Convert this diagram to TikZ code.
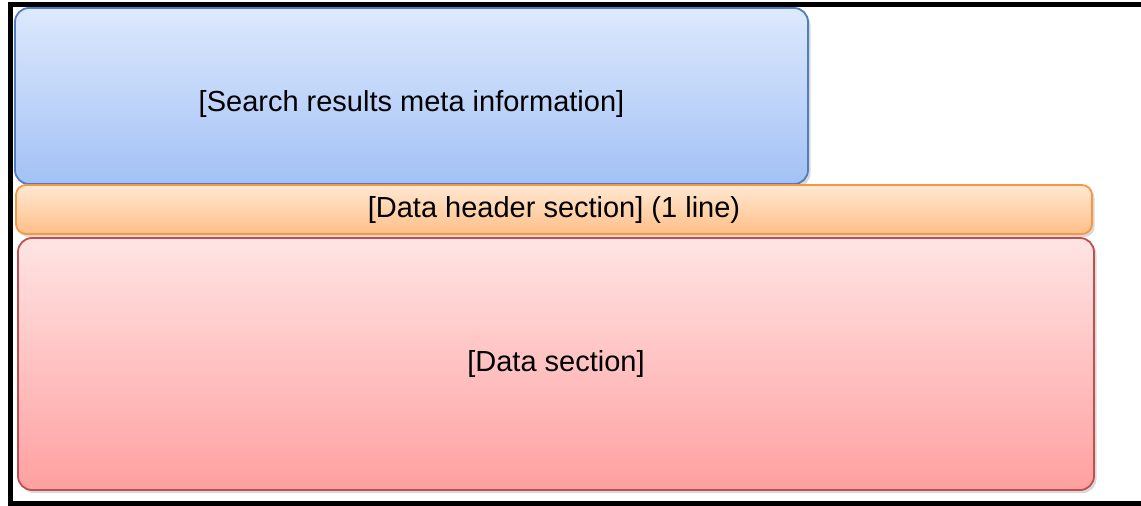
\documentclass[tikz,border=0pt]{standalone}
\usepackage{fontspec}
\setmainfont{Liberation Sans}
\usetikzlibrary{shadows}
\definecolor{bluetop}{HTML}{DDE9FD}
\definecolor{bluebot}{HTML}{A3C1F5}
\definecolor{blueline}{HTML}{4F7EC0}
\definecolor{orangetop}{HTML}{FFE8D2}
\definecolor{orangebot}{HTML}{FFBF88}
\definecolor{orangeline}{HTML}{F7973F}
\definecolor{redtop}{HTML}{FFE4E4}
\definecolor{redbot}{HTML}{FFA0A0}
\definecolor{redline}{HTML}{C0504D}
\tikzset{
  sect/.style={draw, line width=1.8pt, rounded corners=#1, inner sep=0pt,
    font=\fontsize{29}{34}\selectfont, text=black,
    drop shadow={shadow xshift=2.5pt, shadow yshift=-3pt, opacity=0.25, fill=black!60}},
  metabox/.style={sect=14pt, draw=blueline, top color=bluetop, bottom color=bluebot},
  headbox/.style={sect=10pt, draw=orangeline, top color=orangetop, bottom color=orangebot},
  databox/.style={sect=14pt, draw=redline, top color=redtop, bottom color=redbot},
  frameline/.style={draw=black, line width=5pt}
}
\begin{document}
\begin{tikzpicture}[x=1pt,y=1pt]
\useasboundingbox (0,0) rectangle (1141,-506);
\draw[frameline] (1141,-4.5) -- (10.5,-4.5) -- (10.5,-503.5) -- (1141,-503.5);
\node[metabox, minimum width=793pt, minimum height=176pt] (meta) at (411.5,-96) {\raisebox{-15pt}[0pt][0pt]{[Search results meta information]}};
\node[headbox, minimum width=1076pt, minimum height=49pt] (head) at (554,-209.5) {[Data header section] (1 line)};
\node[databox, minimum width=1076pt, minimum height=252pt] (data) at (556,-364) {[Data section]};
\end{tikzpicture}
\end{document}
